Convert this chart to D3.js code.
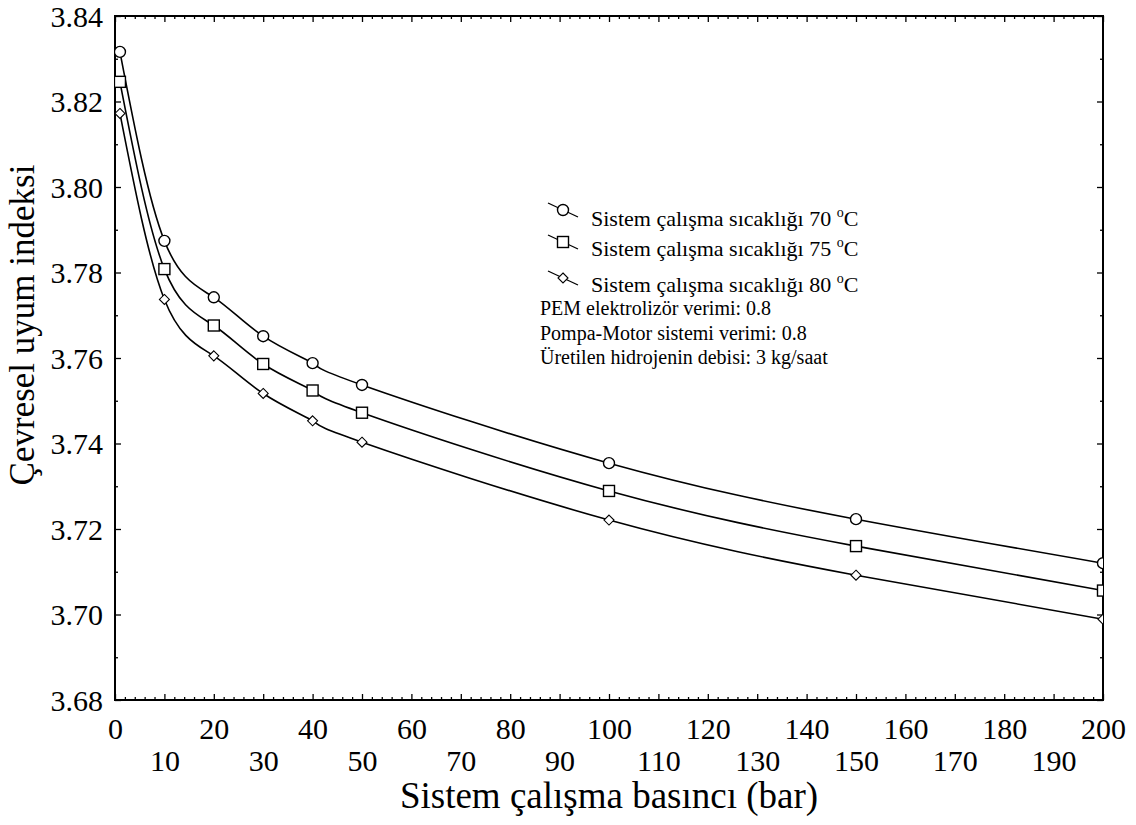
<!DOCTYPE html>
<html>
<head>
<meta charset="utf-8">
<script src="https://cdnjs.cloudflare.com/ajax/libs/d3/7.8.5/d3.min.js"></script>
<style>
  body { margin: 0; background: #fff; }
  svg text { font-family: "Liberation Serif", "Times New Roman", serif !important; fill: #000; }
</style>
</head>
<body>
<div id="chart"></div>
<script>
// pressure (bar) and environmental compatibility index for each temperature
var pressure = [1, 10, 20, 30, 40, 50, 100, 150, 200];
var t70 = [3.8316, 3.7874, 3.7742, 3.7651, 3.7588, 3.7537, 3.7354, 3.7223, 3.7120];
var t75 = [3.8246, 3.7808, 3.7676, 3.7586, 3.7524, 3.7472, 3.7289, 3.7160, 3.7056];
var t80 = [3.8172, 3.7737, 3.7605, 3.7517, 3.7453, 3.7403, 3.7221, 3.7092, 3.6989];
var seriesNames = ["Sistem çalışma sıcaklığı 70 ", "Sistem çalışma sıcaklığı 75 ", "Sistem çalışma sıcaklığı 80 "];
var noteLines = ["PEM elektrolizör verimi: 0.8", "Pompa-Motor sistemi verimi: 0.8", "Üretilen hidrojenin debisi: 3 kg/saat"];
var xTicks = d3.range(0, 201, 10);
var yTicks = [3.68, 3.70, 3.72, 3.74, 3.76, 3.78, 3.80, 3.82, 3.84];

var serif = '"Liberation Serif", "Times New Roman", serif';

var svgWidth = 1136;
var svgHeight = 825;
var margin = { top: 16, right: 33, bottom: 125, left: 115 };
var width = svgWidth - margin.left - margin.right;
var height = svgHeight - margin.top - margin.bottom;

var svg = d3.select("#chart").append("svg")
  .attr("width", svgWidth)
  .attr("height", svgHeight)
  .style("font-family", serif);

var chartGroup = svg.append("g")
  .attr("transform", `translate(${margin.left}, ${margin.top})`);

var xScale = d3.scaleLinear().domain([0, 200]).range([0, width]);
var yScale = d3.scaleLinear().domain([3.68, 3.84]).range([height, 0]);

// minor ticks
var xMinor = d3.range(0, 201, 2).filter(d => d % 10 !== 0);
var yMinor = d3.range(3.69, 3.84, 0.02);

function tickAxis(axis, values, size, transform) {
  var g = chartGroup.append("g")
    .attr("transform", transform || null)
    .call(axis.tickValues(values).tickSize(-size).tickFormat(""));
  g.select(".domain").remove();
  g.selectAll("line").attr("stroke", "#000").attr("stroke-width", 1.3);
  return g;
}

tickAxis(d3.axisBottom(xScale), xTicks, 6, `translate(0, ${height})`);
tickAxis(d3.axisBottom(xScale), xMinor, 3, `translate(0, ${height})`);
tickAxis(d3.axisTop(xScale), xTicks, 6);
tickAxis(d3.axisTop(xScale), xMinor, 3);
tickAxis(d3.axisLeft(yScale), yTicks, 6);
tickAxis(d3.axisLeft(yScale), yMinor, 3);
tickAxis(d3.axisRight(yScale), yTicks, 6, `translate(${width}, 0)`);
tickAxis(d3.axisRight(yScale), yMinor, 3, `translate(${width}, 0)`);

// tick labels
var xLabels = chartGroup.append("g")
  .attr("transform", `translate(0, ${height})`)
  .call(d3.axisBottom(xScale).tickValues(xTicks).tickSize(0).tickPadding(0));
xLabels.attr("font-family", null);
xLabels.select(".domain").remove();
xLabels.selectAll("text")
  .style("font-family", serif)
  .style("font-size", "30px")
  .attr("y", d => (d % 20 === 0 ? 39 : 71))
  .attr("dy", 0);

var yLabels = chartGroup.append("g")
  .call(d3.axisLeft(yScale).tickValues(yTicks).tickSize(0).tickPadding(12).tickFormat(d3.format(".2f")));
yLabels.attr("font-family", null);
yLabels.select(".domain").remove();
yLabels.selectAll("text")
  .style("font-family", serif)
  .style("font-size", "30px")
  .attr("dy", "0.34em");

// frame
chartGroup.append("rect")
  .attr("width", width)
  .attr("height", height)
  .attr("fill", "none")
  .attr("stroke", "#000")
  .attr("stroke-width", 2);

// axis titles
svg.append("text")
  .attr("x", margin.left + width / 2)
  .attr("y", 808)
  .attr("text-anchor", "middle")
  .style("font-size", "37px")
  .text("Sistem çalışma basıncı (bar)");

svg.append("text")
  .attr("transform", "translate(34, 325) rotate(-90)")
  .attr("text-anchor", "middle")
  .style("font-size", "35px")
  .text("Çevresel uyum indeksi");

// clip to plot area
svg.append("defs").append("clipPath").attr("id", "plot-clip")
  .append("rect").attr("width", width).attr("height", height);

var plotArea = chartGroup.append("g").attr("clip-path", "url(#plot-clip)");

var line = d3.line()
  .x(d => xScale(d[0]))
  .y(d => yScale(d[1]))
  .curve(d3.curveNatural);

var allSeries = [t70, t75, t80];
var markerTypes = ["circle", "square", "diamond"];

function drawMarker(g, type, cx, cy) {
  if (type === "circle") {
    g.append("circle").attr("cx", cx).attr("cy", cy).attr("r", 5.5)
      .attr("fill", "#fff").attr("stroke", "#000").attr("stroke-width", 1.4);
  } else if (type === "square") {
    g.append("rect").attr("x", cx - 5.5).attr("y", cy - 5.5).attr("width", 11).attr("height", 11)
      .attr("fill", "#fff").attr("stroke", "#000").attr("stroke-width", 1.4);
  } else {
    g.append("path").attr("d", `M${cx},${cy - 5}L${cx + 5},${cy}L${cx},${cy + 5}L${cx - 5},${cy}Z`)
      .attr("fill", "#fff").attr("stroke", "#000").attr("stroke-width", 1.1);
  }
}

allSeries.forEach(function (vals, i) {
  var pts = pressure.map((p, j) => [p, vals[j]]);
  plotArea.append("path")
    .datum(pts)
    .attr("d", line)
    .attr("fill", "none")
    .attr("stroke", "#000")
    .attr("stroke-width", 1.6);
  pts.forEach(function (d) {
    drawMarker(plotArea, markerTypes[i], xScale(d[0]), yScale(d[1]));
  });
});

// legend
var legend = svg.append("g");
var legendRows = [210, 242, 278];
var legendBase = [226, 256, 292];
seriesNames.forEach(function (name, i) {
  legend.append("line")
    .attr("x1", 548).attr("y1", legendRows[i] - 7)
    .attr("x2", 578).attr("y2", legendRows[i] + 7)
    .attr("stroke", "#000").attr("stroke-width", 1.3);
  drawMarker(legend, markerTypes[i], 563, legendRows[i]);
  var t = legend.append("text")
    .attr("x", 591)
    .attr("y", legendBase[i])
    .style("font-size", "22px")
    .text(name);
  t.append("tspan").style("font-size", "14px").attr("dy", -9).text("o");
  t.append("tspan").attr("dy", 9).text("C");
});

noteLines.forEach(function (txt, i) {
  legend.append("text")
    .attr("x", 540)
    .attr("y", 315 + i * 24.5)
    .style("font-size", "20px")
    .text(txt);
});
</script>
</body>
</html>
